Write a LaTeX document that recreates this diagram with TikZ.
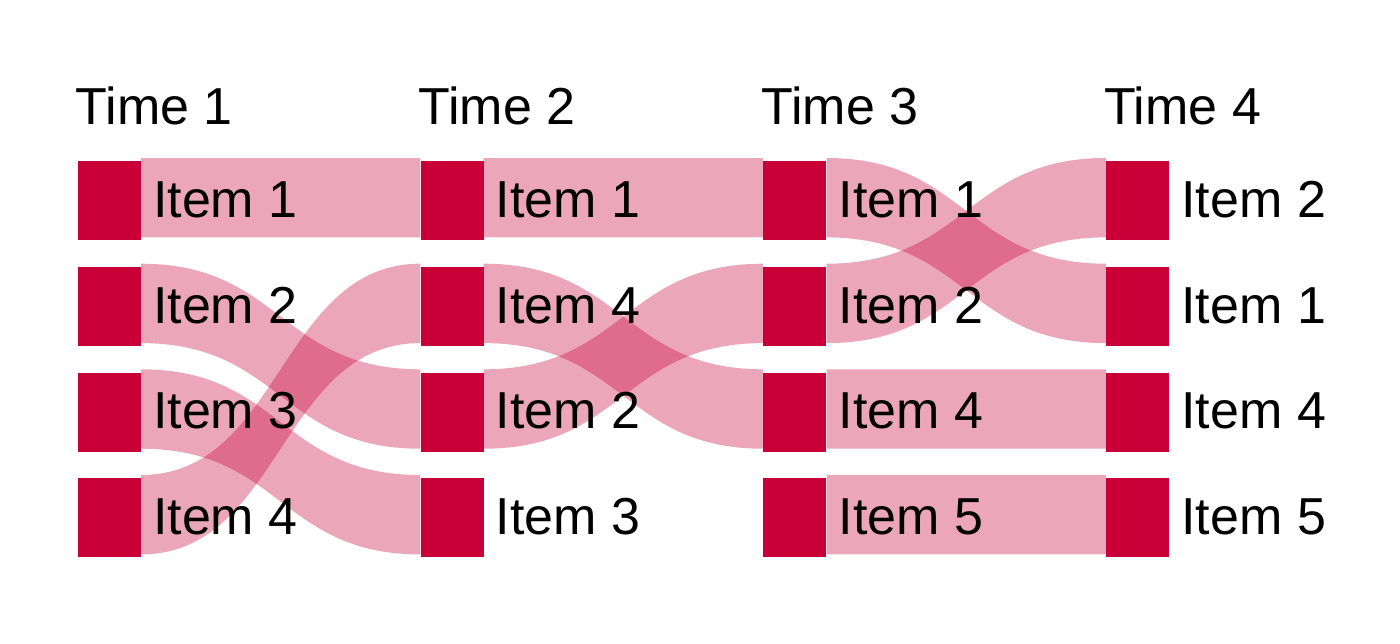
\documentclass[tikz,border=0pt]{standalone}
\usepackage{fontspec}
\setmainfont{Liberation Sans}
\usetikzlibrary{calc}
\definecolor{crim}{RGB}{200,0,55}
\pgfdeclarelayer{background}
\pgfsetlayers{background,main}
\newcommand\flowband[2]{%
  \path ([yshift=3pt]#1.north east) coordinate (A1)
        ([yshift=3pt]#1.south east) coordinate (A2)
        ([yshift=3pt]#2.north west) coordinate (B1)
        ([yshift=3pt]#2.south west) coordinate (B2)
        ($(A1)!0.5!(B1)$) coordinate (M);
  \fill[flowfill] (A1) .. controls (M|-A1) and (M|-B1) .. (B1) -- (B2)
     .. controls (M|-B2) and (M|-A2) .. (A2) -- cycle;}
\begin{document}
\begin{tikzpicture}[x=1pt,y=-1pt,
  sq/.style={fill=crim, draw=none, minimum width=63pt, minimum height=79pt, inner sep=0pt, anchor=north west},
  lbl/.style={font=\fontsize{52}{56}\selectfont, inner sep=0pt, anchor=west},
  hdr/.style={font=\fontsize{52}{56}\selectfont, inner sep=0pt, anchor=base west},
  flowfill/.style={fill=crim, fill opacity=0.35}]
\useasboundingbox (0,0) rectangle (1400,643);
% headers
\node[hdr] (h1) at (75.5,124) {Time 1};
\node[hdr] (h2) at (418.3,124) {Time 2};
\node[hdr] (h3) at (761.1,124) {Time 3};
\node[hdr] (h4) at (1103.9,124) {Time 4};
% squares: column c, row r
\foreach \c/\x in {1/77.5,2/420.3,3/763.1,4/1105.9}{
  \foreach \r/\y in {1/161,2/266.7,3/372.3,4/478}{
    \node[sq] (s\c\r) at (\x,\y) {};
  }
}
% labels
\foreach \c/\r/\t in {1/1/Item 1,1/2/Item 2,1/3/Item 3,1/4/Item 4,
                      2/1/Item 1,2/2/Item 4,2/3/Item 2,2/4/Item 3,
                      3/1/Item 1,3/2/Item 2,3/3/Item 4,3/4/Item 5,
                      4/1/Item 2,4/2/Item 1,4/3/Item 4,4/4/Item 5}{
  \node[lbl] (l\c\r) at ([xshift=12pt,yshift=1pt]s\c\r.east) {\t};
}
% flows
\begin{pgfonlayer}{background}
\flowband{s11}{s21}
\flowband{s12}{s23}
\flowband{s13}{s24}
\flowband{s14}{s22}
\flowband{s21}{s31}
\flowband{s22}{s33}
\flowband{s23}{s32}
\flowband{s31}{s42}
\flowband{s32}{s41}
\flowband{s33}{s43}
\flowband{s34}{s44}
\end{pgfonlayer}
\end{tikzpicture}
\end{document}
